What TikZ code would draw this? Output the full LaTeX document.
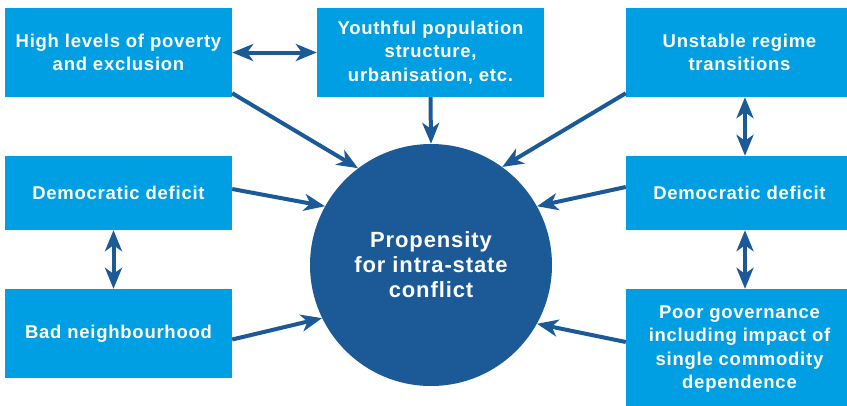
\documentclass[tikz,border=0pt]{standalone}
\usepackage{fontspec}
\setmainfont{Liberation Sans}
\newfontfamily\labelfont[LetterSpace=4]{Liberation Sans}
\usetikzlibrary{arrows.meta,positioning}
\definecolor{boxblue}{HTML}{009FE3}
\definecolor{navy}{HTML}{1B5A96}

\begin{document}
\begin{tikzpicture}[x=1pt,y=-1pt,
		>={Stealth[length=21pt,width=17pt,inset=6pt]},
		factor/.style={fill=boxblue,text=white,inner sep=0pt,minimum width=227pt,align=center,
			font=\labelfont\bfseries\fontsize{18.5}{23.5}\selectfont},
		link/.style={draw=navy,line width=4pt,->},
		twoway/.style={draw=navy,line width=4pt,<->}]
	\def\w{227}
	\clip (0,0) rectangle (847,405);
	% left column
	\node[factor,minimum height=89pt] (poverty) at (118.5,52.5) {High levels of poverty\\and exclusion};
	\node[factor,minimum height=74pt] (demleft) at (118.5,193) {Democratic deficit};
	\node[factor,minimum height=89pt] (neighbour) at (118.5,333.5) {Bad neighbourhood};
	% middle
	\node[factor,minimum height=89pt] (youth) at (430.5,52.5) {Youthful population\\structure,\\urbanisation, etc.};
	\node[circle,fill=navy,text=white,minimum size=242pt,inner sep=0pt,align=center,
		font=\labelfont\bfseries\fontsize{22}{25}\selectfont] (conflict) at (431,265) {Propensity\\for intra-state\\conflict};
	% right column
	\node[factor,minimum height=89pt] (regime) at (739.5,52.5) {Unstable regime\\transitions};
	\node[factor,minimum height=74pt] (demright) at (739.5,193) {Democratic deficit};
	\node[factor,minimum height=120pt] (governance) at (739.5,349) {Poor governance\\including impact of\\single commodity\\dependence};

	\draw[twoway] (poverty.east) -- (youth.west);
	\draw[twoway] ([xshift=-5pt]demleft.south) -- ([xshift=-5pt]neighbour.north);
	\draw[twoway] ([xshift=5.5pt]regime.south) -- ([xshift=5.5pt]demright.north);
	\draw[twoway] ([xshift=5.5pt]demright.south) -- ([xshift=5.5pt]governance.north);

	\draw[link] (youth.south) -- (conflict.north);
	\draw[link] ([yshift=4pt]poverty.south east) -- (conflict.127.8);
	\draw[link] ([yshift=4pt]demleft.east) -- (conflict.151.3);
	\draw[link] ([yshift=-6pt]neighbour.east) -- (conflict.206.6);
	\draw[link] ([yshift=4pt]regime.south west) -- (conflict.54.2);
	\draw[link] ([yshift=6pt]demright.west) -- (conflict.29.5);
	\draw[link] ([yshift=7pt]governance.west) -- (conflict.-29);
\end{tikzpicture}
\end{document}
